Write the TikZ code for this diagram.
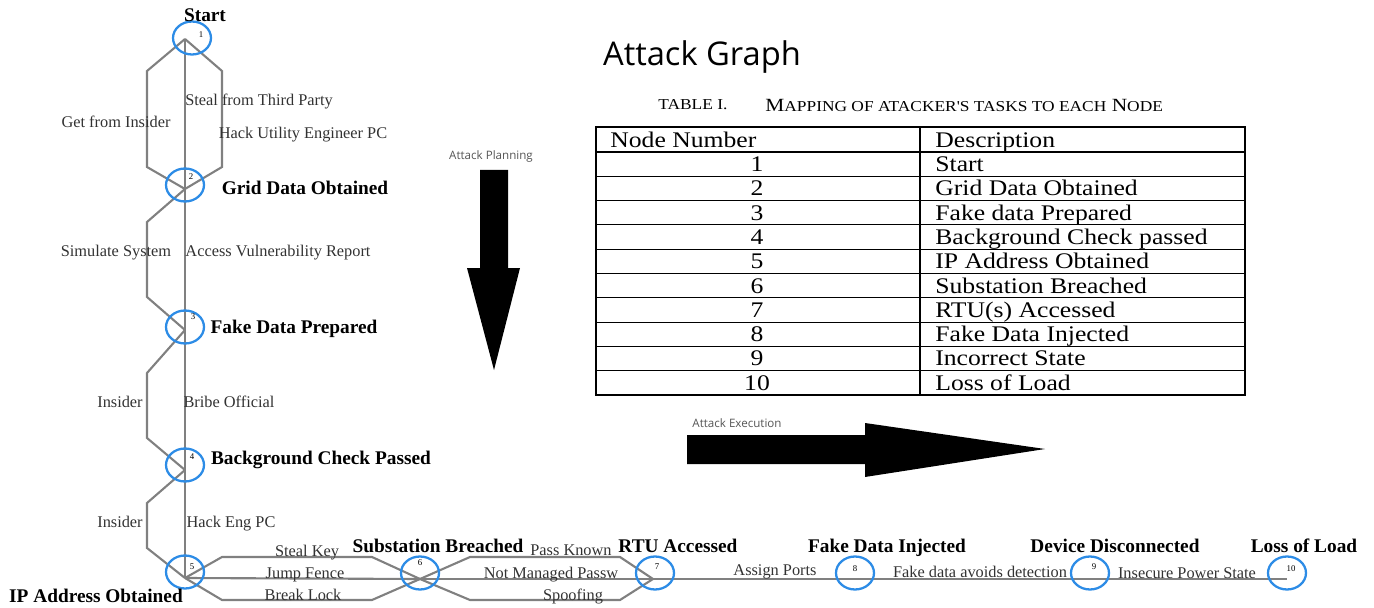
\documentclass[tikz,border=0pt]{standalone}
\usepackage{fontspec}
\setmainfont{Liberation Serif}
\newfontfamily\tabfont{Liberation Serif}[FakeStretch=1.15]
\newfontfamily\uifont{Open Sans}
\usetikzlibrary{positioning}
\usetikzlibrary{shapes.geometric}
\definecolor{nodeblue}{RGB}{45,140,230}
\definecolor{edgegray}{RGB}{128,128,128}
\definecolor{labelgray}{RGB}{50,50,50}
\definecolor{uigray}{RGB}{85,85,85}
\tikzset{
  vtx/.style={ellipse, draw=nodeblue, line width=1.3pt, minimum width=0.76cm, minimum height=0.66cm, inner sep=0pt},
  numlbl/.style={font=\fontsize{5}{5}\selectfont, inner sep=0pt},
  attack/.style={draw=edgegray, line width=1.2pt},
  goallbl/.style={font=\bfseries\fontsize{11}{11}\selectfont, inner sep=0pt, text height=7.3pt, text depth=0pt},
  tasklbl/.style={font=\fontsize{9.3}{9.3}\selectfont, text=labelgray, inner sep=0pt, text height=6.2pt, text depth=0pt},
  cell/.style={font=\tabfont\fontsize{12.7}{12.7}\selectfont, inner sep=0pt, text height=8.4pt, text depth=0pt},
  uilbl/.style={font=\uifont\fontsize{6.6}{6.6}\selectfont, text=uigray, inner sep=0pt},
}
\newcommand{\smcap}[1]{{\fontsize{8.6}{8.6}\selectfont #1}}

\begin{document}
\begin{tikzpicture}[x=0.02cm, y=-0.02cm]
  \useasboundingbox (0,0) rectangle (1374,608);

  % where the paths meet
  \coordinate (v1) at (185,39);
  \coordinate (v2) at (185,189);
  \coordinate (v3) at (185,330);
  \coordinate (v4) at (185,470);
  \coordinate (v5) at (185,578);
  \coordinate (v6) at (420,579);
  \coordinate (v7) at (653,579);
  \coordinate (v8) at (855,579);
  \coordinate (v9) at (1090,579);
  \coordinate (v10) at (1287,579);

  % planning: 1 -> 5
  \draw[attack] (v1) -- ++(-38,32) -- ++(0,96) -- (v2);
  \draw[attack] (v1) -- (v2);
  \draw[attack] (v1) -- ++(37,32) -- ++(0,96) -- (v2);
  \draw[attack] (v2) -- ++(-38,33) -- ++(0,75) -- (v3);
  \draw[attack] (v2) -- (v3);
  \draw[attack] (v3) -- ++(-38,43) -- ++(0,65) -- (v4);
  \draw[attack] (v3) -- (v4);
  \draw[attack] (v4) -- ++(-38,33) -- ++(0,45) -- (v5);
  \draw[attack] (v4) -- (v5);

  % execution: 5 -> 10
  \draw[attack] (v5) -- ++(37,-21) -- ++(150,0) -- (v6);
  \draw[attack] (v5) -- (v6);
  \draw[attack] (v5) -- ++(37,22) -- ++(150,0) -- (v6);
  \draw[attack] (v6) -- ++(50,-22) -- ++(150,0) -- (v7);
  \draw[attack] (v6) -- (v7);
  \draw[attack] (v6) -- ++(50,21) -- ++(150,0) -- (v7);
  \draw[attack] (v7) -- (v8);
  \draw[attack] (v8) -- (v9);
  \draw[attack] (v9) -- (v10);

  % node circles and numbers
  \node[vtx] (n1) at (192,38) {};
  \node[vtx] (n2) at (185,185) {};
  \node[vtx] (n3) at (185,327) {};
  \node[vtx] (n4) at (185,465) {};
  \node[vtx] (n5) at (185,572) {};
  \node[vtx] (n6) at (420,573) {};
  \node[vtx] (n7) at (655,573) {};
  \node[vtx] (n8) at (855,573) {};
  \node[vtx] (n9) at (1090,573) {};
  \node[vtx] (n10) at (1287,573) {};
  \node[numlbl] (k1) at (201,35) {1};
  \node[numlbl] (k2) at (191,177) {2};
  \node[numlbl] (k3) at (193,317) {3};
  \node[numlbl] (k4) at (192,457) {4};
  \node[numlbl] (k5) at (192,567) {5};
  \node[numlbl] (k6) at (420,563) {6};
  \node[numlbl] (k7) at (657,567) {7};
  \node[numlbl] (k8) at (855,569) {8};
  \node[numlbl] (k9) at (1094,567) {9};
  \node[numlbl] (k10) at (1291,569) {10};

  % states
  \node[goallbl] (start) at (205,15) {Start};
  \node[goallbl] (grid) at (305,188) {Grid Data Obtained};
  \node[goallbl] (fake) at (294,327) {Fake Data Prepared};
  \node[goallbl] (check) at (321,458) {Background Check Passed};
  \node[goallbl] (ip) at (96,596) {IP Address Obtained};
  \node[goallbl] (sub) at (438,546) {Substation Breached};
  \node[goallbl] (rtu) at (678,546) {RTU Accessed};
  \node[goallbl] (inject) at (887,546) {Fake Data Injected};
  \node[goallbl] (device) at (1115,546) {Device Disconnected};
  \node[goallbl] (loss) at (1304,546) {Loss of Load};

  % tasks
  \node[tasklbl] (t12a) at (116,122) {Get from Insider};
  \node[tasklbl] (t12b) at (259,100) {Steal from Third Party};
  \node[tasklbl] (t12c) at (303,133) {Hack Utility Engineer PC};
  \node[tasklbl] (t23a) at (116,251) {Simulate System};
  \node[tasklbl] (t23b) at (278,251) {Access Vulnerability Report};
  \node[tasklbl] (t34a) at (120,402) {Insider};
  \node[tasklbl] (t34b) at (229,402) {Bribe Official};
  \node[tasklbl] (t45a) at (120,522) {Insider};
  \node[tasklbl] (t45b) at (231,522) {Hack Eng PC};
  \node[tasklbl] (t56a) at (307,551) {Steal Key};
  \node[tasklbl] (t56b) at (305,573) {Jump Fence};
  \node[tasklbl] (t56c) at (303,595) {Break Lock};
  \node[tasklbl] (t67a) at (571,550) {Pass Known};
  \node[tasklbl] (t67b) at (551,573) {Not Managed Passw};
  \node[tasklbl] (t67c) at (573,595) {Spoofing};
  \node[tasklbl] (t78) at (775,570) {Assign Ports};
  \node[tasklbl] (t89) at (980,572) {Fake data avoids detection};
  \node[tasklbl] (t910) at (1187,573) {Insecure Power State};

  % phase arrows
  \node[uilbl] (plan) at (491,156) {Attack Planning};
  \fill (480,170) -- (508,170) -- (508,268) -- (520,268) -- (494,370) -- (467,268) -- (480,268) -- cycle;
  \node[uilbl] (exec) at (737,423) {Attack Execution};
  \fill (687,435) -- (865,435) -- (865,423) -- (1045,449) -- (865,477) -- (865,464) -- (687,464) -- cycle;

  % title and table
  \node[font=\uifont\fontsize{18.6}{18.6}\selectfont] (title) at (702,57) {Attack Graph};
  \node[font=\tabfont\fontsize{8.6}{8.6}\selectfont, anchor=west, inner sep=0pt] (tabno) at (658,105) {TABLE I.};
  \node[font=\tabfont\fontsize{10.6}{10.6}\selectfont, anchor=west, inner sep=0pt] (tabcap) at (765,105)
    {M\smcap{APPING OF ATACKER'S TASKS TO EACH} N\smcap{ODE}};
  \draw[line width=0.9pt] (596,127) rectangle (1245,395);
  \draw[line width=0.7pt] (920,127) -- (920,395);
  \draw[line width=0.6pt] (596,152) -- (1245,152) (596,176.3) -- (1245,176.3)
    (596,200.6) -- (1245,200.6) (596,224.9) -- (1245,224.9) (596,249.2) -- (1245,249.2)
    (596,273.5) -- (1245,273.5) (596,297.8) -- (1245,297.8) (596,322.1) -- (1245,322.1)
    (596,346.4) -- (1245,346.4) (596,370.7) -- (1245,370.7);
  \node[cell, anchor=west] (hnum) at (610,140) {Node Number};
  \node[cell, anchor=west] (hdesc) at (935,140) {Description};
  \node[cell] (r1) at (757,164.2) {1};
  \node[cell] (r2) at (757,188.5) {2};
  \node[cell] (r3) at (757,212.8) {3};
  \node[cell] (r4) at (757,237.1) {4};
  \node[cell] (r5) at (757,261.4) {5};
  \node[cell] (r6) at (757,285.7) {6};
  \node[cell] (r7) at (757,310) {7};
  \node[cell] (r8) at (757,334.3) {8};
  \node[cell] (r9) at (757,358.6) {9};
  \node[cell] (r10) at (757,382.9) {10};
  \node[cell, anchor=west] (d1) at (935,164.2) {Start};
  \node[cell, anchor=west] (d2) at (935,188.5) {Grid Data Obtained};
  \node[cell, anchor=west] (d3) at (935,212.8) {Fake data Prepared};
  \node[cell, anchor=west] (d4) at (935,237.1) {Background Check passed};
  \node[cell, anchor=west] (d5) at (935,261.4) {IP Address Obtained};
  \node[cell, anchor=west] (d6) at (935,285.7) {Substation Breached};
  \node[cell, anchor=west] (d7) at (935,310) {RTU(s) Accessed};
  \node[cell, anchor=west] (d8) at (935,334.3) {Fake Data Injected};
  \node[cell, anchor=west] (d9) at (935,358.6) {Incorrect State};
  \node[cell, anchor=west] (d10) at (935,382.9) {Loss of Load};
\end{tikzpicture}
\end{document}
